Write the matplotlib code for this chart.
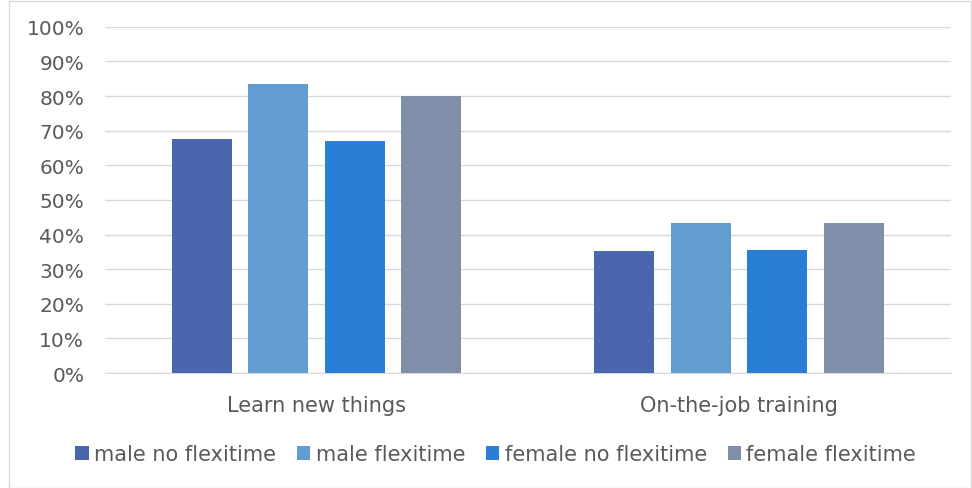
import numpy as np
import matplotlib.pyplot as plt
from matplotlib.patches import Rectangle

# data
categories = ['Learn new things', 'On-the-job training']
series = ['male no flexitime', 'male flexitime', 'female no flexitime', 'female flexitime']
values = [
    [0.676, 0.352],
    [0.835, 0.434],
    [0.671, 0.355],
    [0.801, 0.434],
]
colors = ['#4A66AC', '#629DD1', '#297FD5', '#7F8FA9']

plt.rcParams['font.family'] = ['DejaVu Sans']
text_col = '#595959'

fig = plt.figure(figsize=(9.72, 4.89), dpi=100)
ax = fig.add_axes([0.108, 0.235, 0.87, 0.708])

x = np.arange(len(categories))
width = 0.142
step = 0.181
for i, (name, vals) in enumerate(zip(series, values)):
    ax.bar(x + (i - 1.5) * step, vals, width, color=colors[i], label=name, zorder=3)

ax.set_xlim(-0.5, 1.5)
ax.set_ylim(0, 1.0)
ax.set_yticks(np.arange(0, 1.01, 0.1))
ax.set_yticklabels([f'{int(round(v * 100))}%' for v in np.arange(0, 1.01, 0.1)])
ax.set_xticks(x)
ax.set_xticklabels(categories)
ax.tick_params(axis='both', length=0, colors=text_col)
ax.tick_params(axis='y', pad=15, labelsize=14.5)
ax.tick_params(axis='x', pad=16, labelsize=15)
ax.grid(axis='y', color='#d9d9d9', linewidth=1, zorder=0)
for s in ['top', 'right', 'left']:
    ax.spines[s].set_visible(False)
ax.spines['bottom'].set_color('#d9d9d9')

leg = fig.legend(loc='lower center', bbox_to_anchor=(0.51, 0.01), ncol=4, frameon=False,
                 fontsize=15, handlelength=0.65, handleheight=0.65, handletextpad=0.25,
                 columnspacing=1.0)
for t in leg.get_texts():
    t.set_color(text_col)

fig.patches.append(Rectangle((0.009, 0.0), 0.99, 0.995, transform=fig.transFigure,
                             fill=False, edgecolor='#d9d9d9', linewidth=1))

fig.savefig('out.png', dpi=100)
